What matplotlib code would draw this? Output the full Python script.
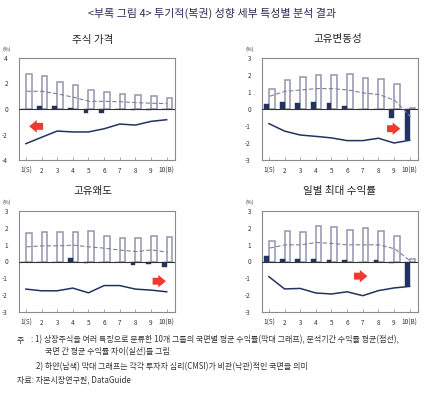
import matplotlib
matplotlib.use("Agg")
import matplotlib.pyplot as plt
import numpy as np

plt.rcParams['font.family'] = ['Noto Sans CJK KR', 'DejaVu Sans']

categories = ["1(S)", "2", "3", "4", "5", "6", "7", "8", "9", "10(B)"]

titles = ["주식 가격", "고유변동성", "고유왜도", "일별 최대 수익률"]

# white (pessimistic) bars
white_vals = [
    [2.72, 2.55, 2.1, 1.9, 1.5, 1.33, 1.2, 1.1, 1.0, 0.86],
    [1.18, 1.73, 1.88, 2.02, 2.02, 2.08, 1.82, 1.76, 1.5, 0.05],
    [1.7, 1.78, 1.78, 1.78, 1.84, 1.5, 1.39, 1.39, 1.5, 1.45],
    [1.23, 1.8, 1.74, 2.08, 2.04, 1.88, 2.0, 1.84, 1.5, 0.12],
]
# navy (optimistic) bars
navy_vals = [
    [0.0, 0.26, 0.25, 0.08, -0.35, -0.28, 0.0, -0.1, -0.08, 0.0],
    [0.29, 0.39, 0.35, 0.41, 0.35, 0.2, 0.0, 0.0, -0.5, -1.85],
    [0.0, 0.0, 0.0, 0.2, -0.08, 0.0, -0.04, -0.2, -0.16, -0.3],
    [0.3, 0.16, 0.16, 0.16, 0.1, 0.1, -0.04, 0.08, -0.1, -1.45],
]
# dashed: average return over period
dashed_vals = [
    [1.39, 1.39, 1.18, 0.92, 0.6, 0.6, 0.57, 0.5, 0.45, 0.42],
    [0.75, 1.04, 1.12, 1.2, 1.2, 1.12, 0.94, 0.85, 0.5, -0.45],
    [0.87, 0.93, 0.93, 0.97, 0.87, 0.79, 0.67, 0.59, 0.69, 0.55],
    [0.8, 0.99, 0.99, 1.13, 1.07, 0.99, 0.99, 0.99, 0.75, 0.02],
]
# solid: difference between regimes
solid_vals = [
    [-2.72, -2.22, -1.73, -1.8, -1.8, -1.55, -1.18, -1.26, -0.97, -0.84],
    [-0.86, -1.3, -1.53, -1.61, -1.7, -1.86, -1.86, -1.72, -2.0, -1.84],
    [-1.64, -1.74, -1.74, -1.58, -1.86, -1.43, -1.43, -1.64, -1.7, -1.8],
    [-0.9, -1.63, -1.6, -1.87, -1.93, -1.8, -2.03, -1.73, -1.57, -1.48],
]
ylims = [(-4, 4), (-3, 3), (-3, 3), (-3, 3)]
yticks = [[-4, -2, 0, 2, 4], [-3, -2, -1, 0, 1, 2, 3], [-3, -2, -1, 0, 1, 2, 3], [-3, -2, -1, 0, 1, 2, 3]]
# arrow: (x_tail, x_head, y)
arrows = [(2.1, 1.21, -1.36), (8.55, 9.4, -1.16), (9.1, 9.95, -1.17), (6.44, 7.3, -0.87)]

W, H = 431, 393
fig = plt.figure(figsize=(W / 100, H / 100), dpi=100)
fig.patch.set_facecolor('white')

NAVY = '#22335f'
EDGE = '#9396ad'
DASH = '#7b819f'
FRAME = '#8a8a8a'

# axes boxes in pixel coords: (left, top, right, bottom)
boxes = [(19, 58, 175, 160), (262, 58, 418, 160), (19, 211, 175, 312), (262, 211, 418, 312)]
title_pos = [(93, 40), (338, 39), (93, 191), (340, 191)]

x = np.arange(1, 11)
for i in range(4):
    l, t, r, b = boxes[i]
    ax = fig.add_axes([l / W, 1 - b / H, (r - l) / W, (b - t) / H])
    ax.bar(x, white_vals[i], width=0.36, align='edge', color='white',
           edgecolor=EDGE, linewidth=1.1, zorder=2)
    ax.bar(x, navy_vals[i], width=-0.3, align='edge', color=NAVY,
           edgecolor=NAVY, linewidth=0.3, zorder=3)
    ax.plot(x + 0.05, dashed_vals[i], color=DASH, linestyle=(0, (4, 2)), linewidth=0.8, zorder=4)
    ax.plot(x, solid_vals[i], color=NAVY, linewidth=1.1, zorder=4)
    ax.axhline(0, color='#333333', linewidth=0.8, zorder=3)
    x0, x1, y0 = arrows[i]
    ax.annotate('', xy=(x1, y0), xytext=(x0, y0),
                arrowprops=dict(arrowstyle='simple,head_width=9,head_length=5.5,tail_width=5',
                                mutation_scale=1, shrinkA=0, shrinkB=0,
                                color='#ee3a2f', lw=0), zorder=5)
    ax.set_xlim(0.56, 10.53)
    ax.set_ylim(*ylims[i])
    ax.set_yticks(yticks[i])
    ax.set_yticklabels([str(v) for v in yticks[i]], fontsize=4.6, color='#333333')
    ax.set_xticks(x)
    ax.set_xticklabels(categories, fontsize=4.6, color='#333333')
    ax.tick_params(axis='x', direction='in', length=2.5, width=0.5, color=FRAME, pad=5)
    ax.tick_params(axis='y', length=0, pad=8)
    for s in ax.spines.values():
        s.set_color(FRAME)
        s.set_linewidth(0.8)
    fig.text((l - 12) / W, 1 - (t - 9) / H, '(%)', fontsize=3.8, color='#333333', ha='center', va='center')
    tx, ty = title_pos[i]
    fig.text(tx / W, 1 - ty / H, titles[i], fontsize=7.6, color='#222222', ha='center', va='center')

fig.text(212 / W, 1 - 13 / H, '<부록 그림 4> 투기적(복권) 성향 세부 특성별 분석 결과',
         fontsize=7.9, color='#2c2c5a', ha='center', va='center')

fs = 5.75
col = '#333333'
fig.text(17 / W, 1 - 340 / H, '주', fontsize=fs, color=col, va='center')
fig.text(31 / W, 1 - 340 / H, ': 1) 상장주식을 여러 특징으로 분류한 10개 그룹의 국면별 평균 수익률(막대 그래프), 분석기간 수익률 평균(점선),',
         fontsize=fs, color=col, va='center')
fig.text(45 / W, 1 - 352 / H, '국면 간 평균 수익률 차이(실선)를 그림', fontsize=fs, color=col, va='center')
fig.text(36 / W, 1 - 367 / H, '2) 하얀(남색) 막대 그래프는 각각 투자자 심리(CMSI)가 비관(낙관)적인 국면을 의미',
         fontsize=fs, color=col, va='center')
fig.text(17 / W, 1 - 380 / H, '자료: 자본시장연구원, DataGuide', fontsize=fs, color=col, va='center')

fig.savefig('out.png', dpi=100, facecolor='white')
